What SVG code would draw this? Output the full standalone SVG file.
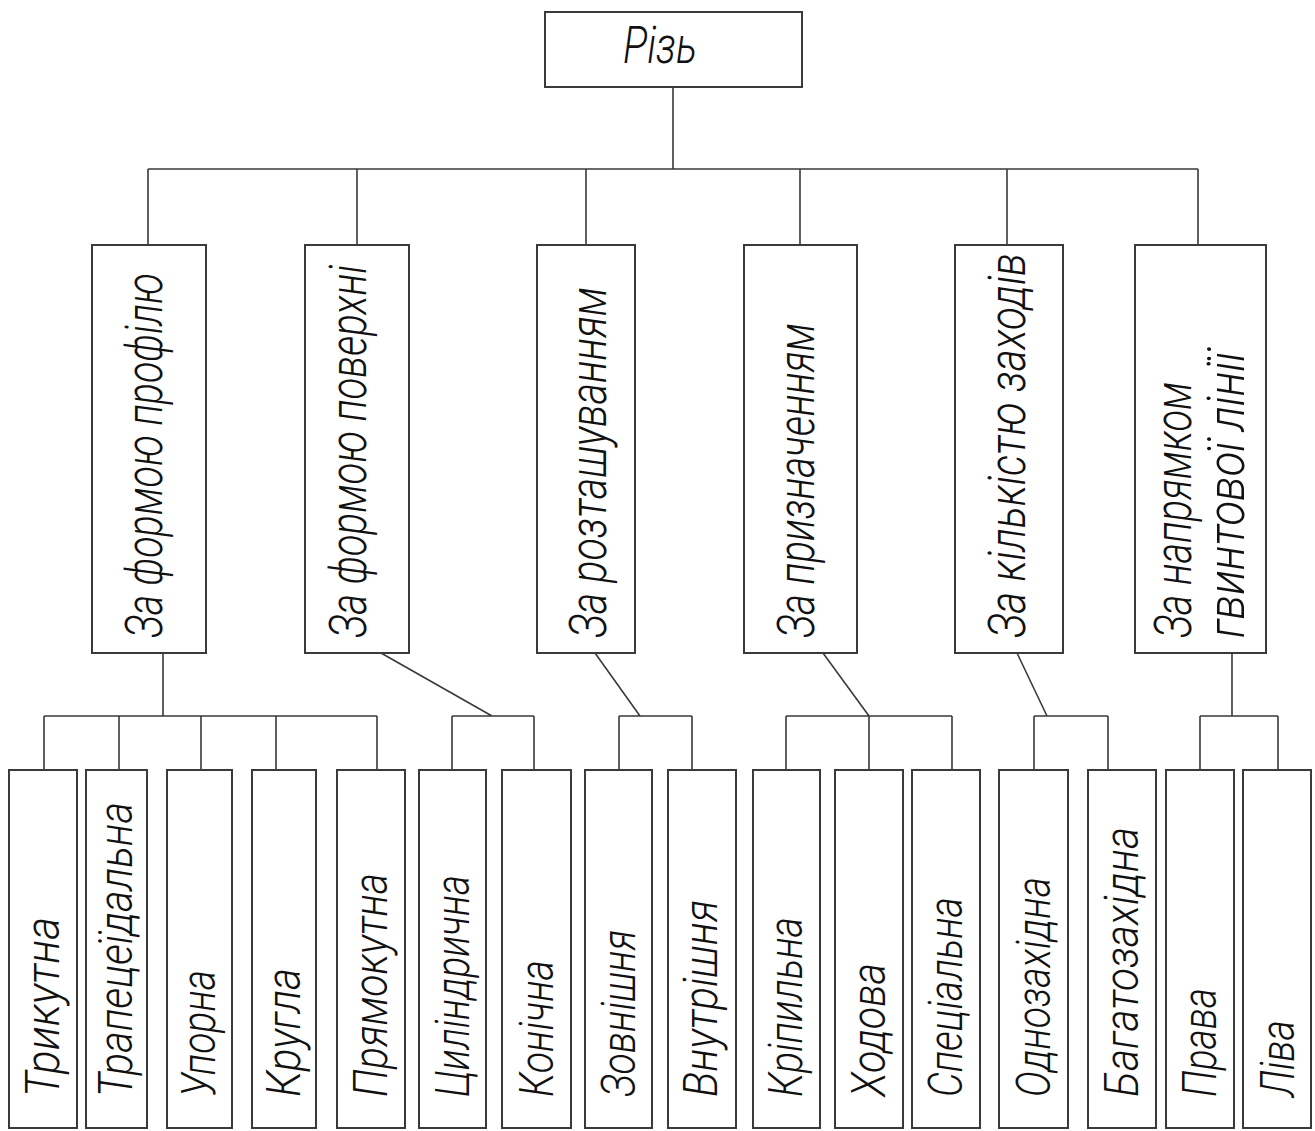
<svg xmlns="http://www.w3.org/2000/svg" width="1315" height="1131" viewBox="0 0 1315 1131">
<style>
.box{fill:#fff;stroke:#3a3a3a;stroke-width:2}
.ln{fill:none;stroke:#3a3a3a;stroke-width:1.6}
.t{font-family:Roboto,"Liberation Sans","DejaVu Sans",sans-serif;font-weight:300;font-style:italic;fill:#111}
.tm{font-size:51px}
.tb{font-size:48px}
</style>
<rect width="1315" height="1131" fill="#fff"/>
<g id="connectors">
<path class="ln" d="M673 87V169M148 169H1198M148 169V245M357 169V245M586 169V245M800 169V245M1007 169V245M1198 169V245"/>
<path class="ln" d="M163 653V716M44 716H377M44 716V770M119 716V770M201 716V770M276 716V770M377 716V770"/>
<path class="ln" d="M381 653L492 716M452 716H534M452 716V770M534 716V770"/>
<path class="ln" d="M595 653L640 716M619 716H692M619 716V770M692 716V770"/>
<path class="ln" d="M823 653L869 716M786 716H952M786 716V770M869 716V770M952 716V770"/>
<path class="ln" d="M1017 653L1047 716M1034 716H1108M1034 716V770M1108 716V770"/>
<path class="ln" d="M1232 653V716M1200 716H1278M1200 716V770M1278 716V770"/>
</g>
<g id="root">
<rect class="box" x="545" y="12" width="257" height="75"/>
<text class="t" x="623" y="63" font-size="51" textLength="74" lengthAdjust="spacingAndGlyphs">Різь</text>
</g>
<g id="m1"><rect class="box" x="92" y="245" width="114" height="408"/>
<text class="t tm" transform="translate(162,638) rotate(-90)" textLength="365" lengthAdjust="spacingAndGlyphs">За формою профілю</text></g>
<g id="m2"><rect class="box" x="305" y="245" width="104" height="408"/>
<text class="t tm" transform="translate(366,638) rotate(-90)" textLength="373" lengthAdjust="spacingAndGlyphs">За формою поверхні</text></g>
<g id="m3"><rect class="box" x="537" y="245" width="98" height="408"/>
<text class="t tm" transform="translate(606,638) rotate(-90)" textLength="351" lengthAdjust="spacingAndGlyphs">За розташуванням</text></g>
<g id="m4"><rect class="box" x="744" y="245" width="113" height="408"/>
<text class="t tm" transform="translate(814,638) rotate(-90)" textLength="315" lengthAdjust="spacingAndGlyphs">За призначенням</text></g>
<g id="m5"><rect class="box" x="955" y="245" width="108" height="408"/>
<text class="t tm" transform="translate(1025,638) rotate(-90)" textLength="385" lengthAdjust="spacingAndGlyphs">За кількістю заходів</text></g>
<g id="m6"><rect class="box" x="1135" y="245" width="131" height="408"/>
<text class="t tm" transform="translate(1191,638) rotate(-90)" textLength="256" lengthAdjust="spacingAndGlyphs">За напрямком</text>
<text class="t tm" transform="translate(1244,638) rotate(-90)" textLength="286" lengthAdjust="spacingAndGlyphs">гвинтової лінії</text></g>
<g id="b1"><rect class="box" x="9" y="770" width="68" height="358"/>
<text class="t tb" transform="translate(59,1097) rotate(-90)" textLength="180" lengthAdjust="spacingAndGlyphs">Трикутна</text></g>
<g id="b2"><rect class="box" x="86" y="770" width="61" height="358"/>
<text class="t tb" transform="translate(132,1097) rotate(-90)" textLength="295" lengthAdjust="spacingAndGlyphs">Трапецеїдальна</text></g>
<g id="b3"><rect class="box" x="167" y="770" width="65" height="358"/>
<text class="t tb" transform="translate(215,1097) rotate(-90)" textLength="127" lengthAdjust="spacingAndGlyphs">Упорна</text></g>
<g id="b4"><rect class="box" x="252" y="770" width="64" height="358"/>
<text class="t tb" transform="translate(300,1097) rotate(-90)" textLength="129" lengthAdjust="spacingAndGlyphs">Кругла</text></g>
<g id="b5"><rect class="box" x="337" y="770" width="68" height="358"/>
<text class="t tb" transform="translate(387,1097) rotate(-90)" textLength="224" lengthAdjust="spacingAndGlyphs">Прямокутна</text></g>
<g id="b6"><rect class="box" x="419" y="770" width="67" height="358"/>
<text class="t tb" transform="translate(469,1097) rotate(-90)" textLength="222" lengthAdjust="spacingAndGlyphs">Циліндрична</text></g>
<g id="b7"><rect class="box" x="502" y="770" width="69" height="358"/>
<text class="t tb" transform="translate(553,1097) rotate(-90)" textLength="137" lengthAdjust="spacingAndGlyphs">Конічна</text></g>
<g id="b8"><rect class="box" x="585" y="770" width="67" height="358"/>
<text class="t tb" transform="translate(635,1097) rotate(-90)" textLength="167" lengthAdjust="spacingAndGlyphs">Зовнішня</text></g>
<g id="b9"><rect class="box" x="668" y="770" width="68" height="358"/>
<text class="t tb" transform="translate(717,1097) rotate(-90)" textLength="197" lengthAdjust="spacingAndGlyphs">Внутрішня</text></g>
<g id="b10"><rect class="box" x="753" y="770" width="67" height="358"/>
<text class="t tb" transform="translate(802,1097) rotate(-90)" textLength="180" lengthAdjust="spacingAndGlyphs">Кріпильна</text></g>
<g id="b11"><rect class="box" x="835" y="770" width="68" height="358"/>
<text class="t tb" transform="translate(885,1097) rotate(-90)" textLength="134" lengthAdjust="spacingAndGlyphs">Ходова</text></g>
<g id="b12"><rect class="box" x="912" y="770" width="68" height="358"/>
<text class="t tb" transform="translate(962,1097) rotate(-90)" textLength="200" lengthAdjust="spacingAndGlyphs">Спеціальна</text></g>
<g id="b13"><rect class="box" x="999" y="770" width="69" height="358"/>
<text class="t tb" transform="translate(1050,1097) rotate(-90)" textLength="220" lengthAdjust="spacingAndGlyphs">Однозахідна</text></g>
<g id="b14"><rect class="box" x="1088" y="770" width="68" height="358"/>
<text class="t tb" transform="translate(1138,1097) rotate(-90)" textLength="270" lengthAdjust="spacingAndGlyphs">Багатозахідна</text></g>
<g id="b15"><rect class="box" x="1166" y="770" width="68" height="358"/>
<text class="t tb" transform="translate(1216,1097) rotate(-90)" textLength="109" lengthAdjust="spacingAndGlyphs">Права</text></g>
<g id="b16"><rect class="box" x="1243" y="770" width="68" height="358"/>
<text class="t tb" transform="translate(1294,1097) rotate(-90)" textLength="77" lengthAdjust="spacingAndGlyphs">Ліва</text></g>
</svg>
